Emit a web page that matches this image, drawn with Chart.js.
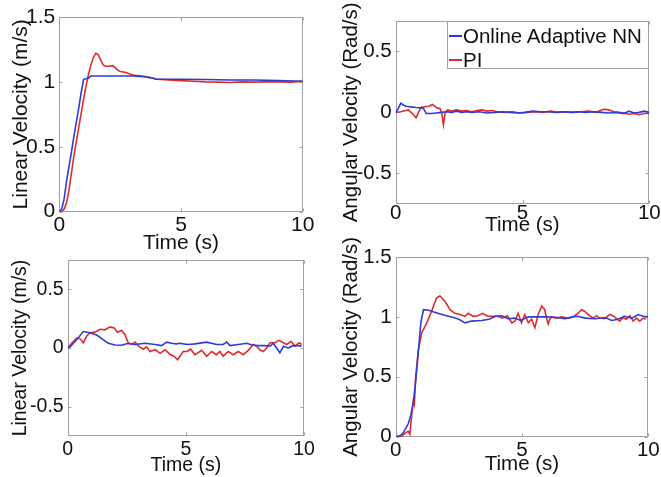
<!DOCTYPE html>
<html>
<head>
<meta charset="utf-8">
<script src="https://cdn.jsdelivr.net/npm/chart.js@4/dist/chart.umd.min.js"></script>
<style>
html,body{margin:0;padding:0;background:#fff;}
body{width:661px;height:477px;position:relative;overflow:hidden;font-family:'Liberation Sans',Arial,sans-serif;}
canvas{position:absolute;}
#legend{position:absolute;left:447px;top:21px;width:200px;height:46px;border:1px solid #a0a0a0;background:#fff;z-index:5;}
#legend .row{position:absolute;left:0;height:24px;line-height:24px;font-size:20.5px;color:#111;white-space:nowrap;}
#legend .swatch{position:absolute;left:1px;top:11px;width:13px;height:2px;}
#legend .txt{position:absolute;left:15px;top:0;}
</style>
</head>
<body>
<canvas id="c1"></canvas>
<canvas id="c2"></canvas>
<canvas id="c3"></canvas>
<canvas id="c4"></canvas>
<div id="legend"></div>
<script>
// ---------- text / ticks ----------
const seriesNames = ['Online Adaptive NN', 'PI'];
const xTitle = 'Time (s)';
const xTicks = [0, 5, 10];
const xTickLabels = ['0', '5', '10'];
const yTicksPos = [0, 0.5, 1, 1.5];
const yTickLabelsPos = ['0', '0.5', '1', '1.5'];
const yTicksSym = [-0.5, 0, 0.5];
const yTickLabelsSym = ['-0.5', '0', '0.5'];
const yTitleLinear = 'Linear Velocity (m/s)';
const yTitleAngular = 'Angular Velocity (Rad/s)';

// ---------- panel 1 : linear velocity step ----------
const p1TimeNN = [0, 0.1, 0.2, 0.3, 0.4, 0.5, 0.6, 0.7, 0.8, 0.9, 1.0, 1.1, 1.2, 1.3, 1.5, 2.0, 2.5, 3.0, 3.5, 3.8, 4.0, 4.5, 5.0, 6.0, 7.0, 8.0, 9.0, 10];
const p1NN = [0, 0.02, 0.1, 0.24, 0.35, 0.46, 0.58, 0.69, 0.8, 0.92, 1.02, 1.025, 1.03, 1.045, 1.045, 1.045, 1.045, 1.045, 1.04, 1.03, 1.02, 1.02, 1.02, 1.018, 1.015, 1.015, 1.01, 1.005];
const p1TimePI = [0, 0.1, 0.2, 0.3, 0.4, 0.5, 0.6, 0.7, 0.8, 0.9, 1.0, 1.1, 1.2, 1.3, 1.4, 1.5, 1.6, 1.7, 1.8, 1.9, 2.0, 2.2, 2.3, 2.4, 2.5, 2.7, 2.9, 3.1, 3.4, 3.7, 4.0, 4.5, 5.0, 5.5, 6.0, 6.5, 7.0, 7.5, 8.0, 8.5, 9.0, 9.5, 10];
const p1PI = [0, 0, 0.02, 0.07, 0.17, 0.3, 0.43, 0.54, 0.65, 0.76, 0.87, 0.97, 1.06, 1.13, 1.19, 1.22, 1.21, 1.17, 1.13, 1.12, 1.12, 1.125, 1.11, 1.09, 1.08, 1.075, 1.06, 1.05, 1.045, 1.035, 1.02, 1.015, 1.01, 1.005, 1.0, 0.998, 0.995, 1.0, 0.998, 1.0, 1.0, 0.998, 1.005];

// ---------- panel 2 : angular velocity (zero ref) ----------
const p2TimeNN = [0, 0.1, 0.2, 0.3, 0.4, 0.6, 0.8, 1.0, 1.1, 1.2, 1.4, 1.6, 1.8, 2.0, 2.2, 2.4, 2.6, 2.8, 3.0, 3.3, 3.6, 3.9, 4.2, 4.5, 4.8, 5.1, 5.4, 5.7, 6.0, 6.3, 6.6, 6.9, 7.2, 7.5, 7.8, 8.1, 8.4, 8.7, 9.0, 9.2, 9.4, 9.6, 9.8, 10];
const p2NN = [0, 0.03, 0.075, 0.06, 0.05, 0.045, 0.04, 0.037, 0.03, -0.01, -0.01, -0.005, 0.0, 0.005, 0.0, 0.01, 0.0, 0.005, 0.0, 0.005, -0.005, 0.0, 0.005, 0.0, -0.005, 0.0, 0.01, 0.005, 0.005, 0.0, 0.005, 0.0, 0.005, 0.0, 0.005, 0.0, -0.005, 0.0, -0.01, 0.01, -0.005, 0.0, 0.01, 0.0];
const p2TimePI = [0, 0.2, 0.4, 0.5, 0.6, 0.7, 0.8, 0.9, 1.0, 1.1, 1.3, 1.45, 1.6, 1.75, 1.82, 1.88, 1.95, 2.05, 2.2, 2.4, 2.6, 2.8, 3.0, 3.2, 3.4, 3.6, 3.8, 4.0, 4.3, 4.6, 4.9, 5.2, 5.5, 5.8, 6.1, 6.4, 6.7, 7.0, 7.3, 7.6, 7.9, 8.2, 8.4, 8.6, 8.8, 9.0, 9.2, 9.4, 9.6, 9.8, 10];
const p2PI = [0, 0.005, 0.015, 0.02, 0.0, -0.02, -0.045, 0.0, 0.04, 0.045, 0.05, 0.065, 0.04, 0.03, -0.01, -0.1, 0.0, 0.02, 0.01, 0.02, 0.01, 0.015, 0.005, 0.015, 0.02, 0.01, 0.015, 0.005, 0.0, 0.005, -0.005, 0.0, 0.005, 0.0, 0.01, 0.0, 0.005, 0.0, 0.005, 0.01, 0.0, 0.025, 0.02, 0.005, 0.0, -0.005, -0.015, -0.01, -0.02, -0.01, -0.01];

// ---------- panel 3 : linear velocity (zero ref) ----------
const p3TimeNN = [0, 0.1, 0.38, 0.66, 0.94, 1.23, 1.44, 1.72, 2.0, 2.28, 2.57, 2.85, 3.27, 3.7, 3.98, 4.19, 4.4, 4.6, 4.75, 4.9, 5.1, 5.39, 5.88, 6.3, 6.58, 6.73, 6.87, 7.22, 7.58, 7.79, 8.07, 8.35, 8.56, 8.7, 8.84, 8.98, 9.13, 9.33, 9.54, 9.75, 9.9];
const p3NN = [0, 0.01, 0.07, 0.14, 0.13, 0.11, 0.08, 0.04, 0.025, 0.023, 0.04, 0.03, 0.04, 0.03, 0.02, 0.05, 0.04, 0.035, 0.04, 0.035, 0.03, 0.035, 0.05, 0.03, 0.03, 0.05, 0.02, 0.03, 0.04, 0.025, 0.02, 0.02, 0.015, 0.04, 0.0, -0.04, 0.015, 0.0, 0.02, 0.02, 0.015];
const p3TimePI = [0, 0.17, 0.38, 0.52, 0.66, 0.8, 0.94, 1.15, 1.37, 1.58, 1.79, 1.97, 2.1, 2.28, 2.42, 2.57, 2.71, 2.85, 3.0, 3.2, 3.34, 3.48, 3.7, 3.91, 4.12, 4.33, 4.5, 4.65, 4.89, 5.05, 5.2, 5.39, 5.67, 5.88, 6.09, 6.3, 6.44, 6.58, 6.8, 7.0, 7.22, 7.43, 7.64, 7.85, 7.99, 8.13, 8.28, 8.42, 8.56, 8.77, 8.94, 9.13, 9.27, 9.45, 9.62, 9.79, 9.9];
const p3PI = [0, 0.04, 0.085, 0.08, 0.045, 0.1, 0.13, 0.135, 0.16, 0.155, 0.18, 0.17, 0.135, 0.15, 0.115, 0.04, 0.03, 0.05, 0.015, -0.01, 0.01, -0.03, -0.015, -0.045, -0.015, -0.055, -0.07, -0.1, -0.03, -0.03, -0.01, -0.057, -0.02, -0.07, -0.03, -0.057, -0.03, -0.07, -0.03, -0.057, -0.03, -0.057, -0.02, 0.03, 0.015, -0.015, -0.03, 0.0, 0.045, 0.045, 0.065, 0.045, 0.03, 0.057, 0.015, 0.045, 0.03];

// ---------- panel 4 : angular velocity step ----------
const p4TimeNN = [0, 0.2, 0.3, 0.4, 0.5, 0.6, 0.7, 0.8, 0.9, 1.0, 1.1, 1.3, 1.6, 2.0, 2.3, 2.5, 2.75, 3.0, 3.4, 3.7, 3.95, 4.2, 4.45, 4.7, 4.95, 5.25, 5.6, 6.0, 6.4, 6.7, 7.0, 7.2, 7.5, 7.9, 8.3, 8.55, 8.8, 9.05, 9.35, 9.6, 9.8, 10];
const p4NN = [0, 0.01, 0.034, 0.07, 0.11, 0.18, 0.29, 0.48, 0.72, 0.96, 1.06, 1.055, 1.035, 1.01, 0.995, 0.98, 0.95, 0.965, 0.97, 0.98, 1.005, 1.01, 0.985, 0.99, 0.97, 1.0, 1.0, 1.0, 0.995, 0.985, 1.0, 1.005, 0.99, 0.985, 0.995, 0.97, 0.98, 1.005, 0.99, 1.02, 1.005, 1.0];
const p4TimePI = [0, 0.25, 0.37, 0.5, 0.56, 0.63, 0.7, 0.74, 0.79, 0.9, 1.03, 1.23, 1.42, 1.62, 1.75, 1.95, 2.15, 2.34, 2.55, 2.74, 2.87, 3.06, 3.25, 3.44, 3.64, 3.83, 4.03, 4.22, 4.42, 4.6, 4.72, 4.85, 4.98, 5.11, 5.25, 5.38, 5.51, 5.64, 5.78, 5.9, 5.97, 6.04, 6.1, 6.17, 6.37, 6.57, 6.83, 7.03, 7.23, 7.36, 7.49, 7.62, 7.82, 7.95, 8.08, 8.28, 8.47, 8.6, 8.74, 8.87, 9.0, 9.13, 9.27, 9.4, 9.53, 9.66, 9.8, 9.9];
const p4PI = [0, 0.005, 0.03, 0.045, 0.02, 0.17, 0.3, 0.27, 0.5, 0.73, 0.866, 0.95, 1.047, 1.16, 1.175, 1.13, 1.06, 1.03, 1.02, 1.005, 1.03, 1.005, 1.01, 1.03, 1.005, 1.005, 1.005, 0.99, 1.01, 0.95, 0.965, 1.03, 0.95, 1.02, 0.95, 0.98, 0.91, 1.02, 1.09, 1.06, 0.99, 0.94, 0.98, 1.0, 0.99, 1.0, 0.99, 1.0, 1.033, 1.06, 1.045, 1.02, 0.99, 1.01, 0.99, 0.985, 1.02, 1.01, 0.985, 0.965, 0.995, 0.98, 1.01, 0.965, 0.99, 0.965, 0.99, 0.98];

// ---------- style ----------
const FONT = "'Liberation Sans', Arial, sans-serif";
const TEXT = '#111111';
const AXIS = '#a0a0a0';
const NN_COLOR = '#2d3cd6';
const PI_COLOR = '#e02c2c';

function pts(t, v) { return t.map((x, i) => ({ x: x, y: v[i] })); }

const boxPlugin = {
  id: 'axesBox',
  beforeDatasetsDraw(chart) {
    const { ctx, chartArea: a, scales } = chart;
    ctx.save();
    ctx.strokeStyle = AXIS;
    ctx.lineWidth = 1;
    const L = Math.round(a.left) + 0.5, R = Math.round(a.right) - 0.5;
    const T = Math.round(a.top) + 0.5, B = Math.round(a.bottom) - 0.5;
    ctx.strokeRect(L, T, R - L, B - T);
    const tk = 3;
    ctx.beginPath();
    scales.x.ticks.forEach(t => {
      const px = Math.round(scales.x.getPixelForValue(t.value)) + 0.5;
      ctx.moveTo(px, B); ctx.lineTo(px, B - tk);
      ctx.moveTo(px, T); ctx.lineTo(px, T + tk);
    });
    scales.y.ticks.forEach(t => {
      const py = Math.round(scales.y.getPixelForValue(t.value)) + 0.5;
      ctx.moveTo(L, py); ctx.lineTo(L + tk, py);
      ctx.moveTo(R, py); ctx.lineTo(R - tk, py);
    });
    ctx.stroke();
    ctx.restore();
  }
};

function makePanel(id, cfg) {
  const canvas = document.getElementById(id);
  canvas.style.left = cfg.left + 'px';
  canvas.style.top = cfg.top + 'px';
  canvas.width = cfg.w;
  canvas.height = cfg.h;
  canvas.style.width = cfg.w + 'px';
  canvas.style.height = cfg.h + 'px';
  const font = { family: FONT, size: cfg.fs, lineHeight: 1 };
  return new Chart(canvas, {
    type: 'line',
    data: {
      datasets: [
        { label: seriesNames[0], data: pts(cfg.tNN, cfg.vNN), borderColor: NN_COLOR, backgroundColor: NN_COLOR, borderWidth: 1.6, pointRadius: 0, tension: 0, fill: false },
        { label: seriesNames[1], data: pts(cfg.tPI, cfg.vPI), borderColor: PI_COLOR, backgroundColor: PI_COLOR, borderWidth: 1.6, pointRadius: 0, tension: 0, fill: false }
      ]
    },
    options: {
      responsive: false,
      animation: false,
      devicePixelRatio: 1,
      events: [],
      layout: { padding: { left: 0, top: cfg.area.t, right: cfg.w - cfg.area.r, bottom: 0 } },
      plugins: { legend: { display: false }, tooltip: { enabled: false } },
      scales: {
        x: {
          type: 'linear', position: 'bottom', min: 0, max: 10,
          afterBuildTicks: s => { s.ticks = xTicks.map(v => ({ value: v })); },
          afterFit: s => { s.height = cfg.h - cfg.area.b; s.paddingLeft = 0; s.paddingRight = 0; },
          grid: { display: false, drawTicks: false },
          border: { display: false },
          ticks: { font: font, color: TEXT, padding: cfg.xTickPad, autoSkip: false, maxRotation: 0, callback: (v, i) => xTickLabels[i] },
          title: { display: true, text: xTitle, font: font, color: TEXT, padding: { top: 0, bottom: cfg.xTitlePad } }
        },
        y: {
          type: 'linear', position: 'left', min: cfg.yMin, max: cfg.yMax,
          afterBuildTicks: s => { s.ticks = cfg.yTicks.map(v => ({ value: v })); },
          afterFit: s => { s.width = cfg.area.l; s.paddingTop = 0; s.paddingBottom = 0; },
          grid: { display: false, drawTicks: false },
          border: { display: false },
          ticks: { font: font, color: TEXT, padding: 4, autoSkip: false, callback: (v, i) => cfg.yLabels[i] },
          title: { display: true, text: cfg.yTitle, font: font, color: TEXT, padding: { top: cfg.yTitlePad, bottom: 0 } }
        }
      }
    },
    plugins: [boxPlugin]
  });
}

makePanel('c1', {
  left: 0, top: 0, w: 330, h: 260, fs: 21,
  area: { l: 59.3, t: 17, r: 302.7, b: 211.7 },
  xTickPad: 3.3, xTitlePad: 6.5, yTitlePad: 10.5,
  yMin: 0, yMax: 1.5, yTicks: yTicksPos, yLabels: yTickLabelsPos, yTitle: yTitleLinear,
  tNN: p1TimeNN, vNN: p1NN, tPI: p1TimePI, vPI: p1PI
});
const chart2 = makePanel('c2', {
  left: 330, top: 0, w: 331, h: 250, fs: 20.5,
  area: { l: 65.7, t: 20.7, r: 319.3, b: 204 },
  xTickPad: -0.75, xTitlePad: 14.25, yTitlePad: 11.5,
  yMin: -0.75, yMax: 0.75, yTicks: yTicksSym, yLabels: yTickLabelsSym, yTitle: yTitleAngular,
  tNN: p2TimeNN, vNN: p2NN, tPI: p2TimePI, vPI: p2PI
});
makePanel('c3', {
  left: 0, top: 240, w: 330, h: 237, fs: 19.5,
  area: { l: 67.7, t: 20, r: 304, b: 196 },
  xTickPad: 4.25, xTitlePad: 1.75, yTitlePad: 11.25,
  yMin: -0.75, yMax: 0.75, yTicks: yTicksSym, yLabels: yTickLabelsSym, yTitle: yTitleLinear,
  tNN: p3TimeNN, vNN: p3NN, tPI: p3TimePI, vPI: p3PI
});
makePanel('c4', {
  left: 330, top: 225, w: 331, h: 252, fs: 20.5,
  area: { l: 65.7, t: 32, r: 318.3, b: 211.7 },
  xTickPad: 3.05, xTitlePad: 2.05, yTitlePad: 11.5,
  yMin: 0, yMax: 1.5, yTicks: yTicksPos, yLabels: yTickLabelsPos, yTitle: yTitleAngular,
  tNN: p4TimeNN, vNN: p4NN, tPI: p4TimePI, vPI: p4PI
});

// HTML legend built from the chart's datasets (top-right panel)
const legendEl = document.getElementById('legend');
chart2.data.datasets.forEach((ds, i) => {
  const row = document.createElement('div');
  row.className = 'row';
  row.style.top = (2 + i * 24) + 'px';
  const sw = document.createElement('span');
  sw.className = 'swatch';
  sw.style.background = ds.borderColor;
  const tx = document.createElement('span');
  tx.className = 'txt';
  tx.textContent = ds.label;
  row.appendChild(sw);
  row.appendChild(tx);
  legendEl.appendChild(row);
});
</script>
</body>
</html>
